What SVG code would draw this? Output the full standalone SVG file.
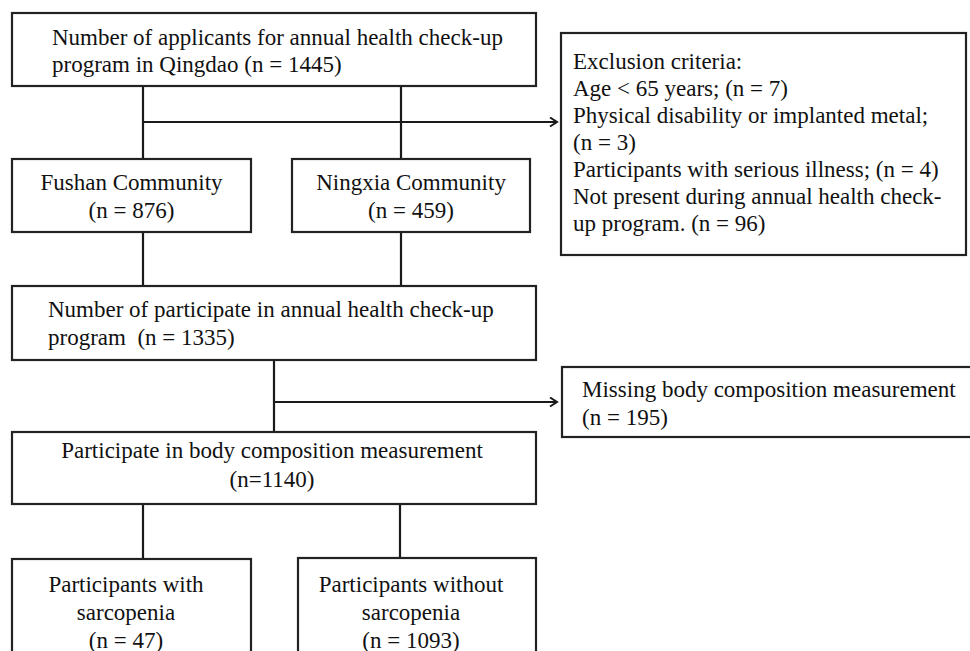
<svg xmlns="http://www.w3.org/2000/svg" width="970" height="651" viewBox="0 0 970 651">
<defs>
<marker id="arr" markerWidth="10" markerHeight="12" refX="8" refY="5" orient="auto" markerUnits="userSpaceOnUse">
<path d="M1,0.5 L8,5 L1,9.5" fill="none" stroke="#1a1a1a" stroke-width="2"/>
</marker>
</defs>
<style>
.box{fill:#fff;stroke:#222;stroke-width:2.2}
.t{font-family:"Liberation Serif","Times New Roman",serif;font-size:23px;fill:#111;white-space:pre}
.c{text-anchor:middle}
.ln{fill:none;stroke:#1a1a1a;stroke-width:2.2}
</style>
<rect width="970" height="651" fill="#fff"/>
<g id="connectors">
<path class="ln" d="M143,86 V159 M401,86 V159"/>
<path class="ln" d="M143,122 H557" marker-end="url(#arr)"/>
<path class="ln" d="M143,232 V286 M401,232 V286"/>
<path class="ln" d="M274,360 V432"/>
<path class="ln" d="M274,402 H557" marker-end="url(#arr)"/>
<path class="ln" d="M143,504 V559 M400,504 V558"/>
</g>
<g id="applicants">
<rect class="box" x="12" y="13" width="524" height="73"/>
<text class="t" x="52" y="45">Number of applicants for annual health check-up</text>
<text class="t" x="52" y="72">program in Qingdao (n = 1445)</text>
</g>
<g id="exclusion">
<rect class="box" x="561" y="33" width="405" height="222"/>
<text class="t" x="573" y="69">Exclusion criteria:</text>
<text class="t" x="573" y="96">Age &lt; 65 years; (n = 7)</text>
<text class="t" x="573" y="123">Physical disability or implanted metal;</text>
<text class="t" x="573" y="150">(n = 3)</text>
<text class="t" x="573" y="177">Participants with serious illness; (n = 4)</text>
<text class="t" x="573" y="204">Not present during annual health check-</text>
<text class="t" x="573" y="231">up program. (n = 96)</text>
</g>
<g id="fushan">
<rect class="box" x="12" y="159" width="239" height="73"/>
<text class="t c" x="131.5" y="190">Fushan Community</text>
<text class="t c" x="131.5" y="218">(n = 876)</text>
</g>
<g id="ningxia">
<rect class="box" x="292" y="159" width="238" height="73"/>
<text class="t c" x="411" y="190">Ningxia Community</text>
<text class="t c" x="411" y="218">(n = 459)</text>
</g>
<g id="participants">
<rect class="box" x="12" y="286" width="524" height="74"/>
<text class="t" x="48" y="317">Number of participate in annual health check-up</text>
<text class="t" x="48" y="345">program  (n = 1335)</text>
</g>
<g id="missing">
<rect class="box" x="562" y="367" width="420" height="70"/>
<text class="t" x="582" y="397">Missing body composition measurement</text>
<text class="t" x="582" y="425">(n = 195)</text>
</g>
<g id="body-composition">
<rect class="box" x="12" y="432" width="524" height="72"/>
<text class="t c" x="272" y="458">Participate in body composition measurement</text>
<text class="t c" x="272" y="487">(n=1140)</text>
</g>
<g id="with-sarcopenia">
<rect class="box" x="12" y="559" width="239" height="110"/>
<text class="t c" x="126" y="592">Participants with</text>
<text class="t c" x="126" y="620">sarcopenia</text>
<text class="t c" x="126" y="648">(n = 47)</text>
</g>
<g id="without-sarcopenia">
<rect class="box" x="298" y="558" width="238" height="110"/>
<text class="t c" x="411" y="592">Participants without</text>
<text class="t c" x="411" y="620">sarcopenia</text>
<text class="t c" x="411" y="648">(n = 1093)</text>
</g>
</svg>
